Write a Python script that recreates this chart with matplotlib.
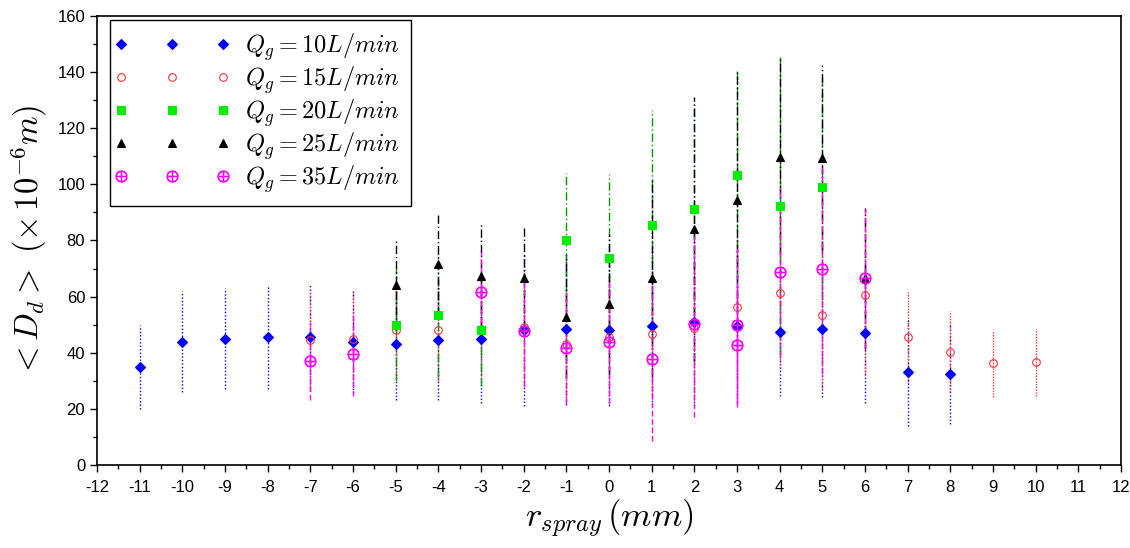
import matplotlib
matplotlib.use("Agg")
import matplotlib.pyplot as plt
from matplotlib.ticker import MultipleLocator
from matplotlib.legend_handler import HandlerLine2D

plt.rcParams['mathtext.fontset'] = 'cm'
plt.rcParams['font.family'] = ['Liberation Sans', 'DejaVu Sans']
plt.rcParams['axes.unicode_minus'] = False

# ---- data ----
x10 = [-11, -10, -9, -8, -7, -6, -5, -4, -3, -2, -1, 0, 1, 2, 3, 4, 5, 6, 7, 8]
y10 = [35, 44, 45, 45.5, 45.5, 44, 43, 44.5, 45, 48, 48.5, 48, 49.5, 51, 49.5, 47.5, 48.3, 47, 33, 32.5]
e10 = [15, 18, 18, 18.5, 19, 18.5, 20, 21.5, 23, 27, 27, 27, 28, 30, 27, 23, 24, 25, 19, 18]

x15 = [-7, -6, -5, -4, -3, -2, -1, 0, 1, 2, 3, 4, 5, 6, 7, 8, 9, 10]
y15 = [44.5, 45, 48, 48, 48.5, 49.3, 43.1, 45.7, 46.6, 48.7, 56.3, 61.4, 53.3, 60.6, 45.7, 40.4, 36.2, 36.6]
e15 = [18, 17, 17, 18, 18, 20, 20, 21, 22, 24, 25, 27, 26, 28, 16, 14.5, 12, 12]

x20 = [-5, -4, -3, -1, 0, 1, 2, 3, 4, 5]
y20 = [50, 53.5, 48.1, 80.2, 73.6, 85.5, 91.4, 103.5, 92.3, 99.2]
e20 = [20, 22, 20, 24, 30, 41, 38, 37, 53, 40]

x25 = [-5, -4, -3, -2, -1, 0, 1, 2, 3, 4, 5, 6]
y25 = [64, 71.6, 67.4, 66.8, 52.9, 57.4, 66.8, 84.2, 94.4, 109.9, 109.5, 66.5]
e25 = [16, 18, 19, 18, 22, 25, 35, 47, 46, 35, 33, 25]

x35 = [-7, -6, -3, -2, -1, 0, 1, 2, 3, 3, 4, 5, 6]
y35 = [37, 39.5, 61.8, 47.8, 41.8, 43.9, 37.7, 50.1, 49.8, 42.8, 68.9, 69.9, 66.8]
e35 = [14, 15, 14, 20, 20, 22, 29, 33, 28, 22, 30, 37, 25]

labels = [r'$Q_g = 10L/min$', r'$Q_g = 15L/min$', r'$Q_g = 20L/min$',
          r'$Q_g = 25L/min$', r'$Q_g = 35L/min$']
x_ticks = list(range(-12, 13))
y_ticks = list(range(0, 161, 20))

series = [
    (x10, y10, e10, dict(color='#0000ff', ls=(0, (1, 1.5)), marker='D', ms=5, mfc='#0000ff', mec='#0000ff')),
    (x15, y15, e15, dict(color='#ff3333', ls=(0, (1, 1)), marker='o', ms=5.5, mfc='none', mec='#ff3333')),
    (x20, y20, e20, dict(color='#009900', ls=(0, (6, 2, 1, 2)), marker='s', ms=5.5, mfc='#00ee00', mec='#00ee00')),
    (x25, y25, e25, dict(color='black', ls=(0, (6, 2, 1, 2)), marker='^', ms=5.5, mfc='black', mec='black')),
    (x35, y35, e35, dict(color='#ff00ff', ls=(0, (4, 2)), marker=r'$\oplus$', ms=8, mfc='#ff00ff', mec='#ff00ff')),
]

fig = plt.figure(figsize=(11.3, 5.48), dpi=100)
ax = fig.add_axes([97/1130, 1-465/548, (1121-97)/1130, (465-16)/548])

for xs, ys, es, st in series:
    c = ax.errorbar(xs, ys, yerr=es, fmt='none', ecolor=st['color'], elinewidth=1.0, capsize=0)
    for lc in c[2]:
        lc.set_linestyle(st['ls'])

handles = []
for (xs, ys, es, st), lab in zip(series, labels):
    h, = ax.plot(xs, ys, linestyle='none', marker=st['marker'], ms=st['ms'],
                 mfc=st['mfc'], mec=st['mec'], mew=0.8, label=lab)
    handles.append(h)

ax.set_xlim(-12, 12)
ax.set_ylim(0, 160)
ax.set_xticks(x_ticks)
ax.set_yticks(y_ticks)
ax.xaxis.set_minor_locator(MultipleLocator(0.5))
ax.yaxis.set_minor_locator(MultipleLocator(10))
ax.tick_params(axis='both', which='major', direction='out', length=5, width=1, labelsize=12)
ax.tick_params(axis='x', which='major', pad=6)
ax.tick_params(axis='both', which='minor', direction='out', length=3, width=1)
ax.tick_params(top=False, right=False, which='both')
for sp in ax.spines.values():
    sp.set_linewidth(1.2)

ax.set_xlabel(r'$r_{spray}\,(mm)$', fontsize=25, labelpad=2)
ax.set_ylabel(r'$<D_d>\ (\times\, 10^{-6}m)$', fontsize=23.5, labelpad=6)

leg = ax.legend(handles=handles, loc='upper left', numpoints=3, fontsize=17.5, frameon=True,
                fancybox=False, edgecolor='black', framealpha=1, borderpad=0.45,
                handlelength=4.2, handletextpad=0.9, labelspacing=0.06, borderaxespad=0,
                bbox_to_anchor=(0.0127, 0.991),
                handler_map={h: HandlerLine2D(marker_pad=0) for h in handles})
leg.get_frame().set_linewidth(1.0)

fig.savefig('out.png', dpi=100)
